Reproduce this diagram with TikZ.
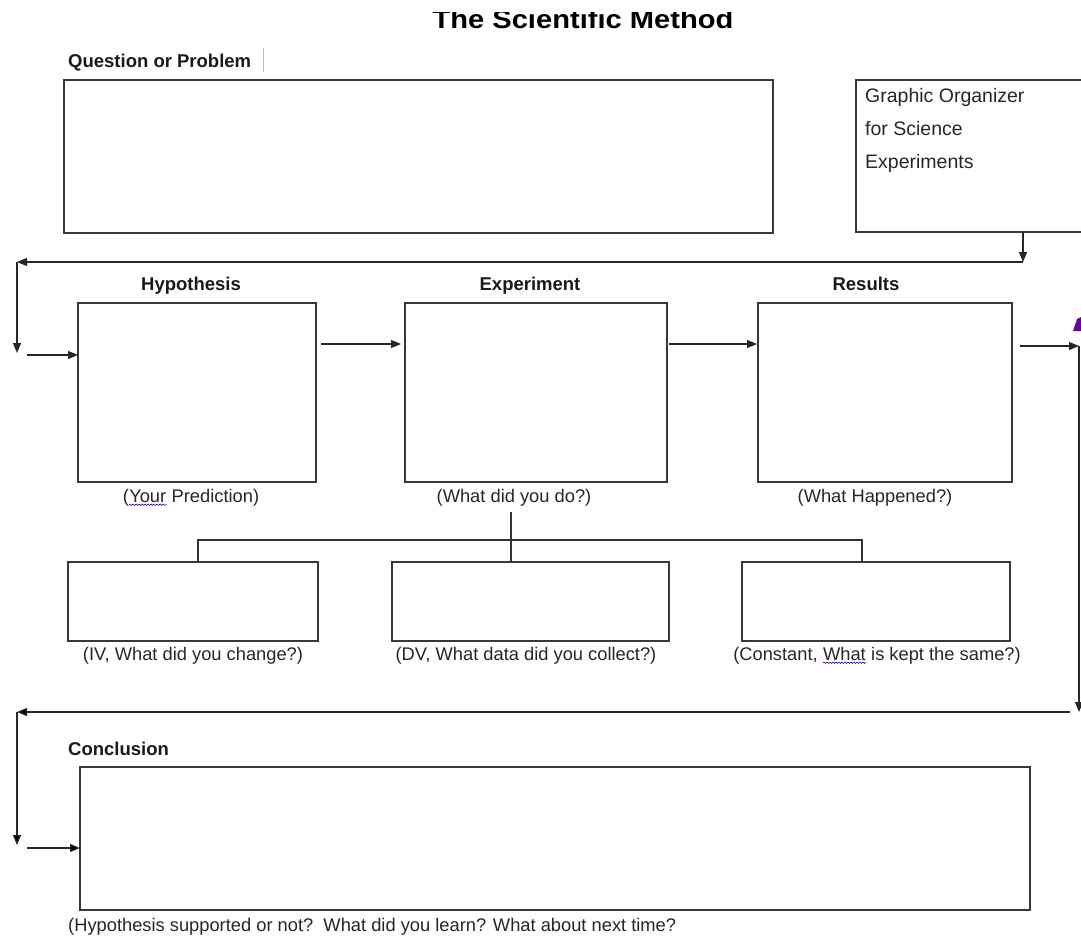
\documentclass[tikz,border=0pt]{standalone}
\usepackage{fontspec}
\setmainfont{Liberation Sans}
\usetikzlibrary{arrows.meta,decorations.pathmorphing}
\newcommand{\wavyword}[1]{\tikz[baseline=(ww.base)]{\node[inner sep=0pt,outer sep=0pt](ww){#1};\draw[blue!70!violet,line width=0.6pt,decorate,decoration={snake,amplitude=0.7pt,segment length=3pt}]([yshift=-2.5pt]ww.south west)--([yshift=-2.5pt]ww.south east);}}
\tikzset{
  box/.style={draw=black!78,line width=1.4pt,inner sep=0pt,outer sep=0pt,anchor=north west},
  arr/.style={draw=black!85,line width=1.2pt,-{Triangle[length=10pt,width=8pt]}},
  ln/.style={draw=black!80,line width=1.2pt},
  lab/.style={font=\fontsize{18.5}{22}\selectfont\bfseries,text=black!90,inner sep=0pt},
  captxt/.style={font=\fontsize{18.3}{22}\selectfont,text=black!85,inner sep=0pt},
}
\begin{document}
\begin{tikzpicture}[x=1pt,y=-1pt]
\useasboundingbox (0,0) rectangle (1081,936);
\clip (0,0) rectangle (1081,936);
% title (its top is cut off in the reference)
\begin{scope}
\clip (0,12.5) rectangle (1081,60);
\node[anchor=base,inner sep=0pt,font=\fontsize{26}{30}\selectfont\bfseries,text=black] (title) at (583,28.5) {\scalebox{1.12}[1]{The Scientific Method}};
\end{scope}
% question
\node[lab,anchor=base west] (qlab) at (68,68) {Question or Problem};
\draw[draw=black!25,line width=0.8pt] (263,48) -- (263,72);
\node[box,minimum width=709pt,minimum height=153pt] (q) at (64,80) {};
% graphic organizer
\node[box,minimum width=240pt,minimum height=152pt] (go) at (856,80) {};
\node[anchor=north west,inner sep=0pt,align=left,font=\fontsize{19.5}{33}\selectfont,text=black!85] (got) at (865,88) {Graphic Organizer\\for Science\\Experiments};
% top return line
\coordinate (c1) at (1023,262);
\coordinate (tl) at (17,262);
\coordinate (tld) at (17,353);
\coordinate (hin) at (27,355);
\draw[arr] (go.south -| c1) -- (c1);
\draw[arr] (c1) -- (tl);
\draw[arr] (tl) -- (tld);
% row of boxes
\node[lab,anchor=base] (hl) at (191,290) {Hypothesis};
\node[lab,anchor=base] (el) at (530,290) {Experiment};
\node[lab,anchor=base] (rl) at (866,290) {Results};
\node[box,minimum width=238pt,minimum height=179pt] (hyp) at (78,303) {};
\node[box,minimum width=262pt,minimum height=179pt] (exp) at (405,303) {};
\node[box,minimum width=254pt,minimum height=179pt] (res) at (758,303) {};
\draw[arr] (hin) -- (hin -| hyp.west);
\coordinate (a1) at (321,344);
\draw[arr] (a1) -- ([xshift=-4pt]a1 -| exp.west);
\coordinate (a2) at (669,344);
\draw[arr] (a2) -- ([xshift=-1pt]a2 -| res.west);
\coordinate (a3) at (1020,346);
\coordinate (rc) at (1079,346);
\coordinate (rd) at (1079,712);
\draw[arr] (a3) -- (rc);
\draw[arr] (rc) -- (rd);
\fill[violet!85!blue] (1073,331) -- (1077,319) -- (1081,317) -- (1081,331) -- cycle;
% captions
\node[captxt,anchor=base] (hc) at (191,502) {(\wavyword{Your} Prediction)};
\node[captxt,anchor=base] (ec) at (514,502) {(What did you do?)};
\node[captxt,anchor=base] (rcap) at (875,502) {(What Happened?)};
% sub boxes
\node[box,minimum width=250pt,minimum height=79pt] (iv) at (68,562) {};
\node[box,minimum width=277pt,minimum height=79pt] (dv) at (392,562) {};
\node[box,minimum width=268pt,minimum height=79pt] (cv) at (742,562) {};
\coordinate (t0) at (511,512);
\draw[ln] (t0) -- (t0 |- dv.north);
\draw[ln] (iv.north -| 198,0) -- (198,540) -- (862,540) -- (cv.north -| 862,0);
\node[captxt,anchor=base] (ivc) at (193,660) {(IV, What did you change?)};
\node[captxt,anchor=base] (dvc) at (526,660) {(DV, What data did you collect?)};
\node[captxt,anchor=base] (cvc) at (877,660) {(Constant, \wavyword{What} is kept the same?)};
% bottom return line
\coordinate (bl) at (17,712);
\coordinate (bld) at (17,845);
\coordinate (cin) at (27,848);
\draw[arr] ([xshift=-9pt]rd) -- (bl);
\draw[arr] (bl) -- (bld);
% conclusion
\node[lab,anchor=base west] (cl) at (68,755) {Conclusion};
\node[box,minimum width=950pt,minimum height=143pt] (con) at (80,767) {};
\draw[arr] (cin) -- (cin -| con.west);
\node[captxt,anchor=base west] (cc) at (68,931) {(Hypothesis supported or not?\ \ What did you learn? What about next time?};
\end{tikzpicture}
\end{document}
